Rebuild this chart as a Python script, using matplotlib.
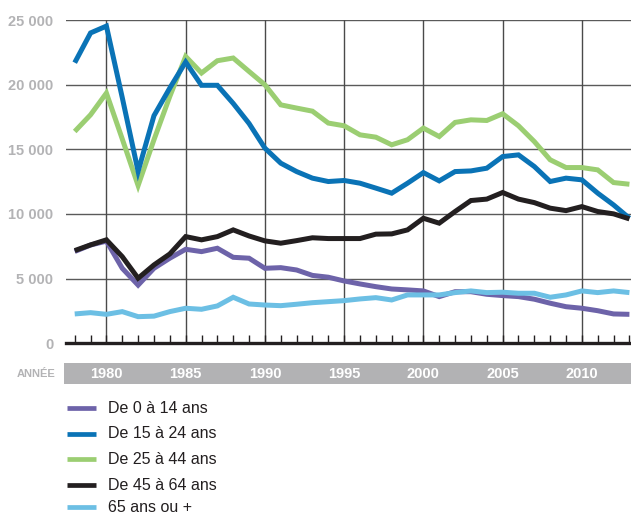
import matplotlib
matplotlib.use('Agg')
import matplotlib.pyplot as plt
import matplotlib.transforms as mtransforms
from matplotlib.lines import Line2D
from matplotlib.patches import Rectangle

plt.rcParams['font.family'] = ['Liberation Sans', 'DejaVu Sans']

# data: one value per year, 1978 -> 2013
years = list(range(1978, 2014))

age_0_14 = [7100, 7600, 7900, 5800, 4500, 5800, 6580, 7270, 7090, 7350,
            6650, 6580, 5800, 5850, 5670, 5250, 5110, 4820, 4590, 4380,
            4200, 4130, 4050, 3610, 3990, 3990, 3790, 3690, 3610, 3410,
            3100, 2830, 2710, 2520, 2270, 2240]
age_15_24 = [21700, 24000, 24530, 19000, 13300, 17600, 19740, 21750, 19950, 19950,
             18550, 17000, 15090, 13930, 13280, 12770, 12510, 12590, 12380, 12000,
             11610, 12380, 13200, 12560, 13280, 13330, 13540, 14440, 14570, 13670,
             12510, 12770, 12640, 11610, 10700, 9670]
age_25_44 = [16380, 17670, 19350, 15800, 12200, 15740, 19090, 22180, 20900, 21850,
             22060, 21020, 19990, 18440, 18190, 17950, 17030, 16820, 16120, 15940,
             15350, 15740, 16640, 15990, 17080, 17280, 17230, 17750, 16820, 15600,
             14190, 13590, 13590, 13410, 12430, 12300]
age_45_64 = [7170, 7610, 8000, 6700, 5030, 6060, 6910, 8250, 8000, 8250,
             8770, 8300, 7920, 7740, 7940, 8160, 8100, 8100, 8100, 8440,
             8460, 8770, 9670, 9290, 10190, 11040, 11150, 11660, 11150, 10880,
             10450, 10260, 10570, 10190, 10010, 9620]
age_65_plus = [2270, 2370, 2240, 2450, 2060, 2100, 2450, 2710, 2630, 2890,
               3560, 3040, 2960, 2910, 3020, 3140, 3220, 3300, 3430, 3530,
               3350, 3740, 3740, 3740, 3920, 4050, 3920, 3950, 3870, 3870,
               3560, 3740, 4050, 3920, 4050, 3920]

series_labels = ['De 0 à 14 ans', 'De 15 à 24 ans', 'De 25 à 44 ans',
                 'De 45 à 64 ans', '65 ans ou +']
series_colors = ['#6d63a9', '#0a73b6', '#9bce72', '#231f20', '#6cbfe4']
year_labels = ['1980', '1985', '1990', '1995', '2000', '2005', '2010']
y_ticks = [0, 5000, 10000, 15000, 20000, 25000]

W, H = 631, 513
fig = plt.figure(figsize=(W / 100, H / 100), dpi=100)
ax = fig.add_axes([66 / W, (H - 343.3) / H, (W - 66) / W, (343.3 - 20) / H])

# grid
for yv in y_ticks[1:]:
    ax.axhline(yv, color='#5a5a5a', lw=1.0, zorder=1)
for lab in year_labels:
    ax.axvline(int(lab), color='#4a4a4a', lw=1.0, zorder=1)

# draw order: green, blue, purple, light blue, black
data = [age_0_14, age_15_24, age_25_44, age_45_64, age_65_plus]
for i in [2, 1, 0, 4, 3]:
    ax.plot(years, data[i], color=series_colors[i], lw=3.6,
            solid_joinstyle='miter', solid_capstyle='butt', zorder=3, clip_on=False)

ax.set_xlim(1977.45, 2013.1)
ax.set_ylim(0, 25000)
for s in ['top', 'right', 'left']:
    ax.spines[s].set_visible(False)
ax.spines['bottom'].set_linewidth(2.4)
ax.spines['bottom'].set_color('#231f20')
ax.spines['bottom'].set_zorder(4)

ax.set_xticks(years)
ax.set_xticklabels([])
ax.tick_params(axis='x', direction='in', length=6, width=1.0, color='#231f20')
ax.set_yticks(y_ticks)
ax.set_yticklabels([f'{v:,}'.replace(',', ' ') for v in y_ticks])
ax.tick_params(axis='y', length=0, pad=9, labelsize=10.5, labelcolor='#b3b3b5')
for t in ax.get_yticklabels():
    t.set_fontweight('bold')

# gray band with years
band = Rectangle((64 / W, (H - 384) / H), (W - 64) / W, 21 / H,
                 transform=fig.transFigure, color='#b2b2b4', lw=0, zorder=-1)
fig.patches.append(band)
trans = mtransforms.blended_transform_factory(ax.transData, fig.transFigure)
for lab in year_labels:
    fig.text(int(lab), (H - 374) / H, lab, transform=trans, ha='center', va='center',
             color='white', fontsize=10.5, fontweight='bold', zorder=5)
fig.text(36 / W, (H - 374) / H, 'ANNÉE', ha='center', va='center',
         color='#b3b3b5', fontsize=8, fontweight='bold')

# legend
legend_y = [408.3, 434, 459.3, 485, 507]
for lab, col, yy in zip(series_labels, series_colors, legend_y):
    fig.add_artist(Line2D([67 / W, 96 / W], [(H - yy) / H] * 2, color=col, lw=3.4,
                          solid_capstyle='butt', transform=fig.transFigure))
    fig.text(108.5 / W, (H - yy) / H, lab, ha='left', va='center',
             color='#231f20', fontsize=11.5)

fig.savefig('out.png', dpi=100)
